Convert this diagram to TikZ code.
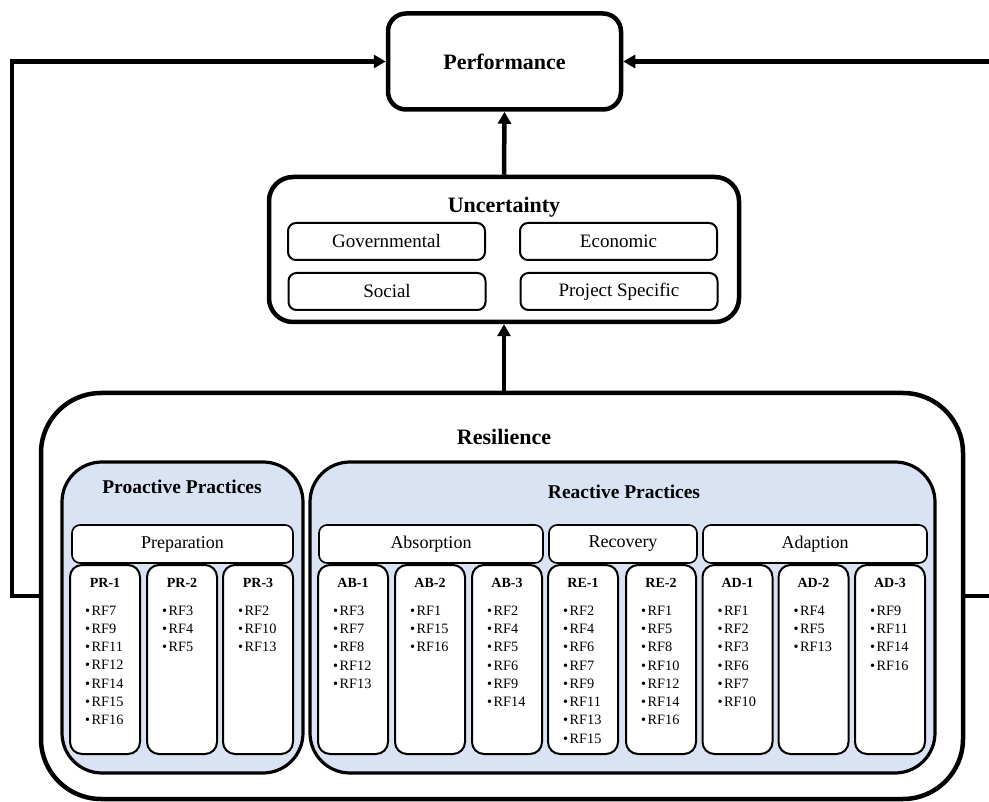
\documentclass[tikz,border=0pt]{standalone}
\usepackage{fontspec}
\setmainfont{Liberation Serif}
\usetikzlibrary{arrows.meta}
\definecolor{practicefill}{HTML}{DAE3F3}

% one practice column: name, centre x, heading, list of factors
\newcommand{\practicecol}[4]{%
  \node[colbox] (#1) at (#2,659.5) {};
  \node[colhead] (#1-h) at (#2,583) {#3};
  \node[items] (#1-l) at (#2-20,605.5) {#4};
}
\newcommand{\rf}[1]{•\kern1.5pt RF#1}

\begin{document}
\begin{tikzpicture}[x=1pt,y=-1pt,
  mainbox/.style={draw, line width=4.5pt, fill=white, inner sep=0pt},
  practice/.style={draw, line width=3.2pt, rounded corners=40pt, fill=practicefill, inner sep=0pt},
  tagbox/.style={draw, line width=2pt, rounded corners=8pt, fill=white, inner sep=0pt,
    font=\fontsize{19}{21}\selectfont},
  catbox/.style={draw, line width=1.6pt, rounded corners=8pt, fill=white, inner sep=0pt,
    minimum height=38pt, font=\fontsize{18}{20}\selectfont},
  colbox/.style={draw, line width=2pt, rounded corners=12pt, fill=white, inner sep=0pt,
    minimum width=70pt, minimum height=189pt},
  colhead/.style={inner sep=0pt, font=\bfseries\fontsize{14}{16}\selectfont},
  items/.style={anchor=north west, align=left, inner sep=0pt, font=\fontsize{14.3}{18.3}\selectfont},
  title/.style={inner sep=0pt, font=\bfseries\fontsize{22}{24}\selectfont},
  subtitle/.style={inner sep=0pt, font=\bfseries\fontsize{19.5}{22}\selectfont},
  flow/.style={line width=4.5pt, -{Triangle[length=12pt,width=13pt]}}
]
\useasboundingbox (0,0) rectangle (989,802);

% top level boxes
\node[mainbox, rounded corners=18pt, minimum width=233pt, minimum height=96pt,
  font=\bfseries\fontsize{22}{24}\selectfont] (perf) at (504.5,61.5) {Performance};

\node[mainbox, rounded corners=24pt, minimum width=470pt, minimum height=145pt] (unc) at (504,249.5) {};
\node[title] (unc-t) at (504,207) {Uncertainty};
\node[tagbox, minimum width=197pt, minimum height=37pt] (gov)  at (386.5,241.5) {Governmental};
\node[tagbox, minimum width=197pt, minimum height=37pt] (eco)  at (618.5,241.5) {Economic};
\node[tagbox, minimum width=197pt, minimum height=37pt] (soc)  at (387,291.5) {Social};
\node[tagbox, minimum width=197pt, minimum height=37pt] (proj) at (619,291.5) {Project Specific};

\node[mainbox, rounded corners=60pt, minimum width=922pt, minimum height=406pt] (resil) at (502,596) {};
\node[title] (resil-t) at (504,437) {Resilience};

% practice groups
\node[practice, minimum width=241pt, minimum height=311pt] (proact) at (182.5,617.5) {};
\node[subtitle] (proact-t) at (182,487) {Proactive Practices};
\node[practice, minimum width=625pt, minimum height=311pt] (react) at (622.5,617.5) {};
\node[subtitle] (react-t) at (624,492) {Reactive Practices};

% columns of resilience factors
\practicecol{pr1}{105}{PR-1}{\rf{7}\\\rf{9}\\\rf{11}\\\rf{12}\\\rf{14}\\\rf{15}\\\rf{16}}
\practicecol{pr2}{182}{PR-2}{\rf{3}\\\rf{4}\\\rf{5}}
\practicecol{pr3}{258}{PR-3}{\rf{2}\\\rf{10}\\\rf{13}}
\practicecol{ab1}{353}{AB-1}{\rf{3}\\\rf{7}\\\rf{8}\\\rf{12}\\\rf{13}}
\practicecol{ab2}{430}{AB-2}{\rf{1}\\\rf{15}\\\rf{16}}
\practicecol{ab3}{507}{AB-3}{\rf{2}\\\rf{4}\\\rf{5}\\\rf{6}\\\rf{9}\\\rf{14}}
\practicecol{re1}{583}{RE-1}{\rf{2}\\\rf{4}\\\rf{6}\\\rf{7}\\\rf{9}\\\rf{11}\\\rf{13}\\\rf{15}}
\practicecol{re2}{661}{RE-2}{\rf{1}\\\rf{5}\\\rf{8}\\\rf{10}\\\rf{12}\\\rf{14}\\\rf{16}}
\practicecol{ad1}{737.5}{AD-1}{\rf{1}\\\rf{2}\\\rf{3}\\\rf{6}\\\rf{7}\\\rf{10}}
\practicecol{ad2}{813.5}{AD-2}{\rf{4}\\\rf{5}\\\rf{13}}
\practicecol{ad3}{890}{AD-3}{\rf{9}\\\rf{11}\\\rf{14}\\\rf{16}}

% category headers
\node[catbox, minimum width=221pt] (prep)   at (182.5,544) {Preparation};
\node[catbox, minimum width=224pt] (absorb) at (431,544) {Absorption};
\node[catbox, minimum width=148pt] (recov)  at (623,544) {Recovery};
\node[catbox, minimum width=224pt] (adapt)  at (815,544) {Adaption};

% connectors
\coordinate (lft) at (12,61.5);
\coordinate (rgt) at (997,61.5);
\draw[flow] (unc.south |- resil.north) -- (unc.south);
\draw[flow] (unc.north) -- (perf.south);
\draw[flow] (resil.west) -| (lft) -- (perf.west);
\draw[flow] (resil.east) -| (rgt) -- (perf.east);
\end{tikzpicture}
\end{document}
